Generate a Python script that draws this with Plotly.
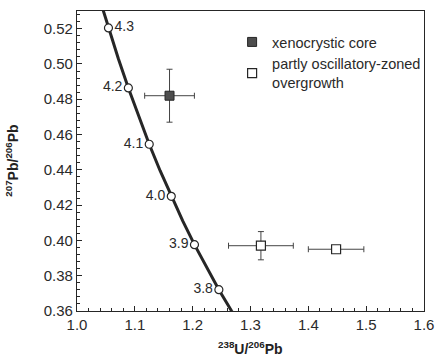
import plotly.graph_objects as go

# Concordia curve (238U/206Pb, 207Pb/206Pb)
concordia_x = [1.0376, 1.0544, 1.0714, 1.0888, 1.1066, 1.1249, 1.1437, 1.1630,
               1.1828, 1.2031, 1.2239, 1.2453, 1.2673, 1.2899]
concordia_y = [0.5384, 0.5204, 0.5031, 0.4864, 0.4701, 0.4545, 0.4395, 0.4250,
               0.4111, 0.3976, 0.3846, 0.3721, 0.3600, 0.3484]

# Age ticks on the concordia (Ga)
age_labels = ["4.3", "4.2", "4.1", "4.0", "3.9", "3.8"]
age_x = [1.0544, 1.0888, 1.1249, 1.1630, 1.2031, 1.2453]
age_y = [0.5204, 0.4864, 0.4545, 0.4250, 0.3976, 0.3721]
age_pos = ["middle right", "middle left", "middle left", "middle left", "middle left", "middle left"]

# Xenocrystic core
core_x = [1.160]
core_y = [0.482]
core_ex = [0.043]
core_ey = [0.015]

# Partly oscillatory-zoned overgrowth
over_x = [1.318, 1.448]
over_y = [0.397, 0.395]
over_ex = [0.056, 0.048]
over_ey = [0.008, 0.002]

FONT = "Liberation Sans, Arial, sans-serif"
DARK = "#262626"

fig = go.Figure()

fig.add_trace(go.Scatter(
    x=concordia_x, y=concordia_y, mode="lines",
    line=dict(color=DARK, width=3), showlegend=False, hoverinfo="skip"))

fig.add_trace(go.Scatter(
    x=age_x, y=age_y, mode="markers+text", text=age_labels,
    textposition=age_pos, textfont=dict(family=FONT, size=14, color="#2a2a2a"),
    marker=dict(symbol="circle", size=8, color="white", line=dict(color=DARK, width=1.2)),
    showlegend=False, hoverinfo="skip"))

fig.add_trace(go.Scatter(
    x=core_x, y=core_y, mode="markers", name="xenocrystic core",
    marker=dict(symbol="square", size=9, color="#4d4d4d", line=dict(color=DARK, width=1)),
    error_x=dict(type="data", array=core_ex, color="#444", thickness=1, width=3),
    error_y=dict(type="data", array=core_ey, color="#444", thickness=1, width=3)))

fig.add_trace(go.Scatter(
    x=over_x, y=over_y, mode="markers", name="partly oscillatory-zoned<br>overgrowth",
    marker=dict(symbol="square", size=9, color="white", line=dict(color=DARK, width=1.2)),
    error_x=dict(type="data", array=over_ex, color="#444", thickness=1, width=3),
    error_y=dict(type="data", array=over_ey, color="#444", thickness=1, width=3)))

axis_common = dict(
    showline=True, linecolor=DARK, linewidth=1.2, mirror=True,
    ticks="inside", ticklen=5, tickcolor=DARK, tickwidth=1,
    showgrid=False, zeroline=False,
    tickfont=dict(family=FONT, size=15, color="#2a2a2a"),
)

fig.update_xaxes(range=[1.0, 1.6], dtick=0.1, tick0=1.0, tickformat=".1f",
                 minor=dict(dtick=0.02, ticks="inside", ticklen=3, tickcolor=DARK),
                 **axis_common)
fig.update_yaxes(range=[0.36, 0.53], dtick=0.02, tick0=0.36, tickformat=".2f",
                 minor=dict(dtick=0.004, ticks="inside", ticklen=3, tickcolor=DARK),
                 **axis_common)

fig.add_annotation(text="<b><sup>207</sup>Pb/<sup>206</sup>Pb</b>", xref="paper", yref="paper",
                   x=-0.188, y=0.5, xanchor="center", yanchor="middle", textangle=-90,
                   showarrow=False, font=dict(family=FONT, size=14, color="#222"))
fig.add_annotation(text="<b><sup>238</sup>U/<sup>206</sup>Pb</b>", xref="paper", yref="paper",
                   x=0.5, y=-0.124, xanchor="center", yanchor="middle",
                   showarrow=False, font=dict(family=FONT, size=14, color="#222"))

fig.update_layout(
    width=444, height=358,
    margin=dict(l=77, r=11, t=10, b=47),
    paper_bgcolor="white", plot_bgcolor="white",
    font=dict(family=FONT, size=14, color="#333"),
    legend=dict(x=0.447, y=0.95, xanchor="left", yanchor="top",
                bgcolor="rgba(0,0,0,0)", font=dict(family=FONT, size=14.5, color="#2a2a2a"),
                itemwidth=30, tracegroupgap=2),
)

fig.write_html("out.html", config={"displayModeBar": False},
               post_script="document.body.style.margin='0px';")
